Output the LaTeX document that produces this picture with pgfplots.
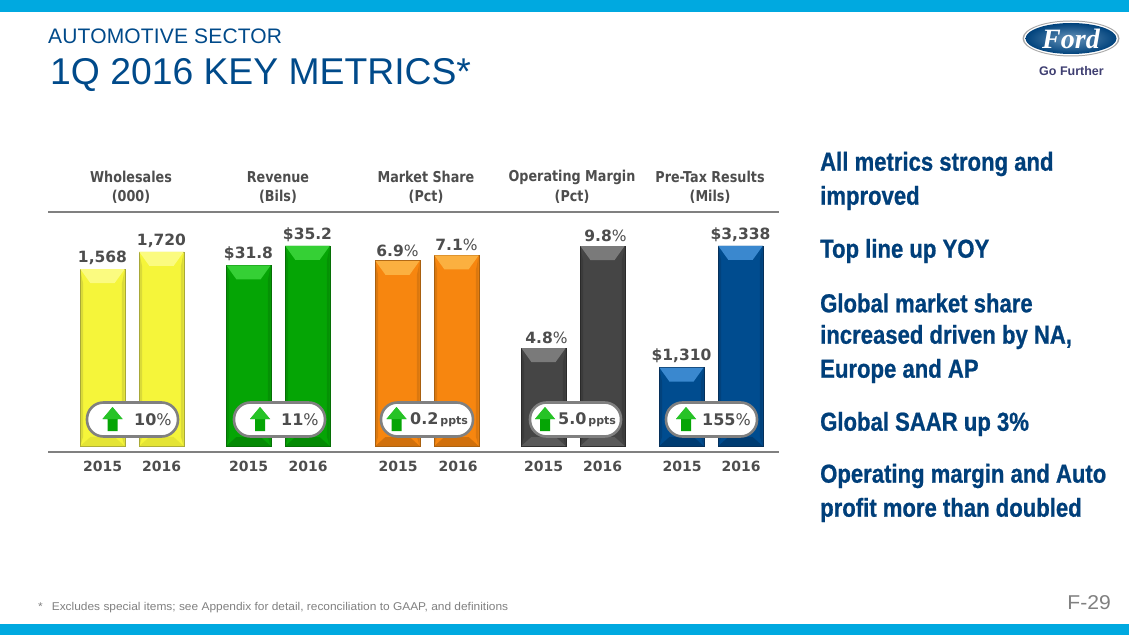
\documentclass[border=0pt]{standalone}
\usepackage{fontspec}
\usepackage{pgfplots}
\pgfplotsset{compat=1.18}
\setmainfont{DejaVu Sans}
\newfontfamily\lab{DejaVu Sans Bold}
\newfontfamily\reg{DejaVu Sans}
\newfontfamily\hdr[FakeStretch=0.85]{DejaVu Sans Bold}
\newfontfamily\yr{DejaVu Sans Bold}
\newfontfamily\side[FakeStretch=0.85,FakeBold=0.8]{Liberation Sans Bold}
\newfontfamily\ttl{Liberation Sans}
\newfontfamily\ttlb[LetterSpace=0.8]{Liberation Sans}
\newfontfamily\foot[FakeStretch=1.055]{Liberation Sans}
\definecolor{txt}{HTML}{4D4D4D}
\definecolor{fordblue}{HTML}{004A8A}
\definecolor{sideblue}{HTML}{003F7A}
\definecolor{band}{HTML}{00A9E0}
\definecolor{rule}{HTML}{808080}
\definecolor{Ya}{HTML}{F5F53A}\definecolor{Yt}{HTML}{FBFB80}\definecolor{Yb}{HTML}{E4E435}\definecolor{Ye}{HTML}{A8A838}
\definecolor{Ga}{HTML}{05A505}\definecolor{Gt}{HTML}{35D035}\definecolor{Gb}{HTML}{048A04}\definecolor{Ge}{HTML}{066F06}
\definecolor{Oa}{HTML}{F7860F}\definecolor{Ot}{HTML}{FBB040}\definecolor{Ob}{HTML}{D0700C}\definecolor{Oe}{HTML}{A86010}
\definecolor{Da}{HTML}{454545}\definecolor{Dt}{HTML}{7A7A7A}\definecolor{Db}{HTML}{5A5A5A}\definecolor{De}{HTML}{2A2A2A}
\definecolor{Ba}{HTML}{004C8F}\definecolor{Bt}{HTML}{3A88CF}\definecolor{Bb}{HTML}{003C72}\definecolor{Be}{HTML}{06305A}
% bevel polygons of one bar: centre, value, data units per pixel, colour prefix
\newcommand{\bevel}[4]{%
  \pgfmathsetmacro\xl{#1-0.375}\pgfmathsetmacro\xr{#1+0.375}%
  \pgfmathsetmacro\xil{#1-0.205}\pgfmathsetmacro\xir{#1+0.205}%
  \pgfmathsetmacro\xsl{#1-0.33}\pgfmathsetmacro\xsr{#1+0.33}%
  \pgfmathsetmacro\yt{#2-14*#3}\pgfmathsetmacro\yb{9*#3}\pgfmathsetmacro\ys{#2-1*#3}%
  \edef\tmp{\noexpand\addplot[fill=#4t,draw=none] coordinates {(\xl,#2)(\xr,#2)(\xir,\yt)(\xil,\yt)} -- cycle;
  \noexpand\addplot[fill=#4b,draw=none] coordinates {(\xl,0)(\xr,0)(\xir,\yb)(\xil,\yb)} -- cycle;
  \noexpand\addplot[fill=#4e,fill opacity=0.35,draw=none] coordinates {(\xl,0)(\xsl,\yb)(\xsl,\yt)(\xl,\ys)} -- cycle;
  \noexpand\addplot[fill=#4e,fill opacity=0.35,draw=none] coordinates {(\xr,0)(\xsr,\yb)(\xsr,\yt)(\xr,\ys)} -- cycle;}\tmp}
\pgfplotsset{panel/.style={scale only axis,hide axis,clip=false,width=118pt,height=200pt,
  xmin=-0.5,xmax=1.5,ymin=0,anchor=south west},
  barlab/.style={nodes near coords style={font=\lab\fontsize{15.5}{15.5}\selectfont,text=txt,inner sep=0pt,yshift=4pt,anchor=south,
   /pgf/number format/assume math mode=true}}}
\begin{document}
\begin{tikzpicture}[x=1pt,y=1pt]
\path[use as bounding box,fill=white] (0,0) rectangle (1129,635);
\fill[band] (0,623) rectangle (1129,635);
\fill[band] (0,0) rectangle (1129,11);
% Wholesales
\begin{axis}[panel,at={(73pt,189pt)},ymax=1773,barlab]
\addplot[ybar,bar width=45pt,fill=Ya,draw=Ye,line width=0.8pt,nodes near coords,
  nodes near coords={\pgfmathprintnumber[1000 sep={,},fixed,precision=0]{\pgfplotspointmeta}},point meta=y] coordinates {(0,1568)(1,1720)};
\bevel{0}{1568}{8.865}{Y}\bevel{1}{1720}{8.865}{Y}
\end{axis}
% Revenue
\begin{axis}[panel,at={(219pt,189pt)},ymax=35.2,barlab]
\addplot[ybar,bar width=45pt,fill=Ga,draw=Ge,line width=0.8pt,
  nodes near coords={\$\pgfmathprintnumber[fixed,fixed zerofill,precision=1]{\pgfplotspointmeta}},point meta=y] coordinates {(0,31.8)(1,35.2)};
\bevel{0}{31.8}{0.176}{G}\bevel{1}{35.2}{0.176}{G}
\end{axis}
% Market Share
\begin{axis}[panel,at={(368pt,189pt)},ymax=7.45,barlab]
\addplot[ybar,bar width=45pt,fill=Oa,draw=Oe,line width=0.8pt,
  nodes near coords={\pgfmathprintnumber[fixed,fixed zerofill,precision=1]{\pgfplotspointmeta}{\reg\%}},point meta=y] coordinates {(0,6.9)(1,7.1)};
\bevel{0}{6.9}{0.03725}{O}\bevel{1}{7.1}{0.03725}{O}
\end{axis}
% Operating Margin
\begin{axis}[panel,at={(514pt,189pt)},ymax=9.8,barlab]
\addplot[ybar,bar width=45pt,fill=Da,draw=De,line width=0.8pt,
  nodes near coords={\pgfmathprintnumber[fixed,fixed zerofill,precision=1]{\pgfplotspointmeta}{\reg\%}},point meta=y,
  nodes near coords style={xshift=3pt}] coordinates {(0,4.8)(1,9.8)};
\bevel{0}{4.8}{0.049}{D}\bevel{1}{9.8}{0.049}{D}
\end{axis}
% Pre-Tax Results
\begin{axis}[panel,at={(652pt,189pt)},ymax=3338,barlab]
\addplot[ybar,bar width=45pt,fill=Ba,draw=Be,line width=0.8pt,
  nodes near coords={\$\pgfmathprintnumber[1000 sep={,},fixed,precision=0]{\pgfplotspointmeta}},point meta=y] coordinates {(0,1310)(1,3338)};
\bevel{0}{1310}{16.69}{B}\bevel{1}{3338}{16.69}{B}
\end{axis}
\begin{scope}[x=1pt,y=-1pt,yshift=635pt]
% titles
\node[anchor=west,inner sep=0pt,text=fordblue,font=\ttlb\fontsize{21}{21}\selectfont] at (48,36) {AUTOMOTIVE SECTOR};
\node[anchor=west,inner sep=0pt,text=fordblue,font=\ttl\fontsize{37.3}{38}\selectfont] at (50,75) {1Q 2016 KEY METRICS*};
% logo
\fill[rule!70] (1071,38.5) ellipse [x radius=48.5,y radius=18];
\fill[white] (1071,38.5) ellipse [x radius=47,y radius=17];
\shade[inner color=fordblue!60!white,outer color=fordblue!90!black] (1071,38.5) ellipse [x radius=45.5,y radius=15.5];
\node[text=white,inner sep=0pt,font=\fontspec{Liberation Serif Bold Italic}\fontsize{28}{28}\selectfont] at (1071,38.5) {Ford};
\node[inner sep=0pt,text=txt!80!blue,font=\fontspec{Liberation Sans Bold}\fontsize{12.5}{12}\selectfont] at (1071.5,71) {Go Further};
% rules
\draw[rule,line width=2pt] (48,212) -- (779,212);
\draw[rule,line width=2pt] (48,452) -- (779,452);
% headers
\foreach \cx/\a/\b in {131/Wholesales/(000),278/Revenue/(Bils),426/Market Share/(Pct),572/Operating Margin/(Pct),710/Pre-Tax Results/(Mils)}{
  \node[inner sep=0pt,text=txt,font=\hdr\fontsize{15}{15}\selectfont] at (\cx,177) {\a};
  \node[inner sep=0pt,text=txt,font=\hdr\fontsize{15}{15}\selectfont] at (\cx,197) {\b};
}
% years
\foreach \cx/\t in {102.5/2015,161.5/2016,248.5/2015,308/2016,398/2015,458/2016,543.5/2015,602.5/2016,682/2015,741/2016}{
  \node[inner sep=0pt,text=txt,font=\yr\fontsize{14}{14}\selectfont] at (\cx,466) {\t};
}
% pills
\foreach \l/\r/\ax/\tx/\bt/\st in {87/178/112.5/134/10/{\reg\%},234/325/260/281/11/{\reg\%},381/473/396.5/410/0.2/{\yr\fontsize{11}{11}\selectfont\,ppts},530/621/545/558/5.0/{\yr\fontsize{11}{11}\selectfont\,ppts},666/757/686/702/155/{\reg\%}}{
  \draw[rule,line width=2.6pt,fill=white,rounded corners=16.5pt] (\l,402.5) rectangle (\r,436.5);
  \fill[Ga] (\ax-10,419) -- (\ax,407) -- (\ax+10,419) -- (\ax+5,419) -- (\ax+5,431) -- (\ax-5,431) -- (\ax-5,419) -- cycle;
  \fill[Gt,opacity=0.7] (\ax-10,419) -- (\ax,407) -- (\ax+10,419) -- cycle;
  \node[anchor=west,inner sep=0pt,text=txt,font=\yr\fontsize{16}{16}\selectfont] at (\tx,420) {\bt\st};
}
% right column
\foreach \yy/\t in {164/All metrics strong and,198/improved,251/Top line up YOY,303/Global market share,337/increased driven by NA{,},371/Europe and AP,424/Global SAAR up 3\%,476/Operating margin and Auto,510/profit more than doubled}{
  \node[anchor=west,inner sep=0pt,text=sideblue,font=\side\fontsize{26}{26}\selectfont] at (820,\yy) {\t};
}
% footer
\node[anchor=west,inner sep=0pt,text=rule,font=\foot\fontsize{11.3}{11}\selectfont] at (38,608) {*\hspace{9pt}Excludes special items; see Appendix for detail, reconciliation to GAAP, and definitions};
\node[anchor=east,inner sep=0pt,text=rule,font=\foot\fontsize{20}{20}\selectfont] at (1111,603) {F-29};
\end{scope}
\end{tikzpicture}
\end{document}
